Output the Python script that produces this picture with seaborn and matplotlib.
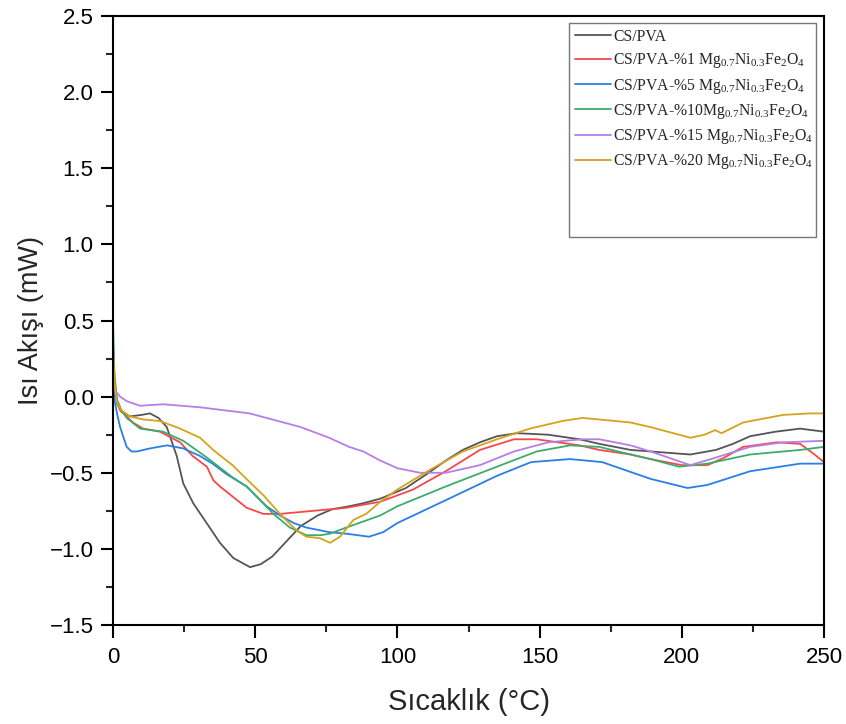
import numpy as np
import pandas as pd
import matplotlib
matplotlib.use("Agg")
import matplotlib.pyplot as plt
from matplotlib.patches import Rectangle
import seaborn as sns

# DSC heat-flow curves (temperature in °C, heat flow in mW)
t_cs = [0, 0.6, 1.5, 3, 6, 10, 13, 16, 18.9, 22.4, 24.7, 28.2, 32.9, 37.6, 42.3, 48.2, 52, 56, 61, 66, 72, 77,
        83, 88, 94, 103, 111, 117, 123, 129, 135, 142, 153, 164, 171, 182, 189, 196, 203, 212, 218, 224, 233,
        241.6, 250]
q_cs = [0.32, 0.05, -0.05, -0.10, -0.13, -0.12, -0.11, -0.14, -0.20, -0.39, -0.57, -0.70, -0.83, -0.96, -1.06,
        -1.12, -1.10, -1.05, -0.95, -0.85, -0.78, -0.74, -0.72, -0.70, -0.67, -0.60, -0.50, -0.42, -0.35, -0.30,
        -0.26, -0.24, -0.25, -0.28, -0.31, -0.35, -0.36, -0.37, -0.38, -0.35, -0.31, -0.26, -0.23, -0.21, -0.23]

t_1 = [0, 0.6, 1.5, 2.5, 7, 10.6, 16.5, 23.6, 28, 33, 35.3, 37.6, 42.3, 47, 52.9, 58.7, 70.4, 82, 94, 105.5,
       117, 129, 141, 149, 164, 171, 182, 189, 200, 209, 215, 221.5, 233.5, 241.6, 246, 250]
q_1 = [0.35, 0.08, -0.03, -0.09, -0.17, -0.21, -0.23, -0.30, -0.39, -0.46, -0.55, -0.59, -0.66, -0.73, -0.77,
       -0.77, -0.75, -0.73, -0.69, -0.61, -0.49, -0.35, -0.28, -0.28, -0.32, -0.35, -0.38, -0.41, -0.45, -0.45,
       -0.40, -0.33, -0.30, -0.31, -0.37, -0.43]

t_5 = [0, 0.4, 0.7, 1.5, 2.5, 4.8, 6.5, 8.4, 13, 19, 24.7, 30.6, 35, 40, 47, 54, 58.7, 63.5, 68, 76, 82, 90,
       95, 100, 117, 135, 147, 160.7, 172, 189, 202, 209, 224, 241.6, 250]
q_5 = [0.10, 0.0, -0.04, -0.12, -0.20, -0.33, -0.36, -0.36, -0.34, -0.32, -0.34, -0.39, -0.44, -0.51, -0.59,
       -0.72, -0.78, -0.83, -0.86, -0.89, -0.90, -0.92, -0.89, -0.83, -0.68, -0.52, -0.43, -0.41, -0.43, -0.54,
       -0.60, -0.58, -0.49, -0.44, -0.44]

t_10 = [0, 0.5, 1.4, 3, 4.8, 9.5, 17.6, 24.7, 33, 42, 47, 51.7, 56.4, 62.2, 68, 73, 76.3, 82, 88, 94, 100, 117,
        135, 149, 160.7, 171, 182, 189, 199, 209, 224, 241.6, 250]
q_10 = [0.50, 0.15, -0.02, -0.09, -0.14, -0.21, -0.23, -0.29, -0.40, -0.53, -0.59, -0.68, -0.77, -0.86, -0.91,
        -0.91, -0.90, -0.86, -0.82, -0.78, -0.72, -0.59, -0.46, -0.36, -0.32, -0.33, -0.38, -0.41, -0.46, -0.44,
        -0.38, -0.35, -0.33]

t_15 = [0, 0.7, 2.5, 4.8, 9.5, 17.6, 30.6, 48, 66, 76, 83, 88, 94, 100, 108, 117, 129, 141, 153, 165, 171, 182,
        189, 203, 212, 224, 235.6, 250]
q_15 = [0.12, 0.04, 0.0, -0.03, -0.06, -0.05, -0.07, -0.11, -0.20, -0.27, -0.33, -0.36, -0.42, -0.47, -0.50,
        -0.50, -0.45, -0.36, -0.30, -0.28, -0.28, -0.32, -0.36, -0.45, -0.40, -0.33, -0.30, -0.29]

t_20 = [0, 0.6, 1.4, 3, 6, 10.6, 16.5, 23.6, 30.6, 35.2, 42, 48, 53, 58.7, 64.6, 68, 72.8, 76.3, 79.8, 84.5,
        89, 94, 100, 111.5, 123, 135, 146.6, 158, 165, 171, 182, 189, 203, 208, 211.7, 214, 221.5, 235.6, 245,
        250]
q_20 = [0.30, 0.08, -0.04, -0.09, -0.13, -0.15, -0.16, -0.21, -0.27, -0.35, -0.45, -0.56, -0.65, -0.77, -0.88,
        -0.92, -0.93, -0.96, -0.92, -0.81, -0.77, -0.69, -0.61, -0.48, -0.36, -0.28, -0.21, -0.16, -0.14, -0.15,
        -0.17, -0.20, -0.27, -0.25, -0.22, -0.24, -0.17, -0.12, -0.11, -0.11]

ferrite = r"$\mathregular{Mg_{0.7}Ni_{0.3}Fe_{2}O_{4}}$"
labels = ["CS/PVA",
          "CS/PVA-%1 " + ferrite,
          "CS/PVA-%5 " + ferrite,
          "CS/PVA-%10" + ferrite,
          "CS/PVA-%15 " + ferrite,
          "CS/PVA-%20 " + ferrite]
colors = ["#555555", "#f5484a", "#2a7ee6", "#3cac6a", "#b67ee6", "#d6a21c"]

series = [(t_cs, q_cs), (t_1, q_1), (t_5, q_5), (t_10, q_10), (t_15, q_15), (t_20, q_20)]
frames = []
for lab, (t, q) in zip(labels, series):
    frames.append(pd.DataFrame({"T": t, "Q": q, "sample": lab}))
df = pd.concat(frames, ignore_index=True)

sns.set_style("ticks")
plt.rcParams["font.family"] = ["Liberation Sans", "DejaVu Sans"]
plt.rcParams["mathtext.default"] = "regular"

fig = plt.figure(figsize=(8.46, 7.24), dpi=100)
ax = fig.add_axes([0.1336, 0.1367, 0.8404, 0.8412])

sns.lineplot(data=df, x="T", y="Q", hue="sample", hue_order=labels, palette=colors,
             sort=False, estimator=None, units="sample", linewidth=1.3, ax=ax, legend=True)

ax.set_xlim(0, 250)
ax.set_ylim(-1.5, 2.5)
ax.set_xticks(np.arange(0, 251, 50))
ax.set_xticks(np.arange(0, 251, 25), minor=True)
yt = np.arange(-1.5, 2.51, 0.5)
ax.set_yticks(yt)
ax.set_yticks(np.arange(-1.5, 2.51, 0.25), minor=True)
ax.set_yticklabels([f"{v:.1f}".replace("-", "\u2212") for v in yt])

for sp in ax.spines.values():
    sp.set_visible(True)
    sp.set_color("black")
    sp.set_linewidth(1.5)
ax.tick_params(which="major", direction="out", length=9, width=1.5, labelsize=16, colors="black",
               top=False, right=False)
ax.tick_params(which="minor", direction="out", length=5, width=1.5, top=False, right=False)
ax.tick_params(axis="x", which="major", pad=6.5)
ax.tick_params(axis="y", which="major", pad=5)

ax.set_xlabel("Sıcaklık (°C)", fontsize=21, labelpad=15)
ax.set_ylabel("Isı Akışı (mW)", fontsize=19.5, labelpad=4)

# legend with a tall grey frame in the upper right
leg = ax.legend(loc="upper left", bbox_to_anchor=(0.6414, 0.9885), frameon=False,
                prop={"family": "Liberation Serif", "size": 11.3},
                handlelength=2.3, handletextpad=0.15, labelspacing=0.4, borderpad=0.38,
                borderaxespad=0.0)
ax.add_patch(Rectangle((0.6414, 0.637), 0.3473, 0.3515, transform=ax.transAxes, fill=False,
                       edgecolor="#777777", linewidth=1.0, zorder=5))

fig.savefig("out.png", dpi=100)
